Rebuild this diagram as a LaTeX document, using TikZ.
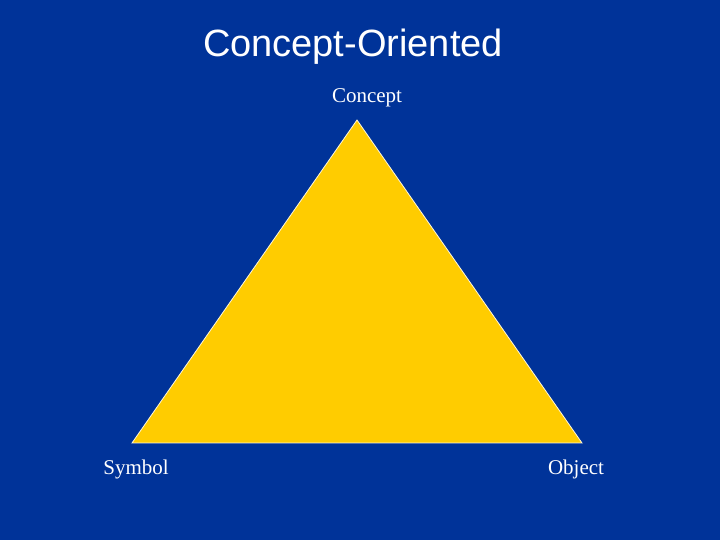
\documentclass[tikz,border=0pt]{standalone}
\usepackage{fontspec}
\setmainfont{Liberation Serif}
\newfontfamily\titlefont{Liberation Sans}
\definecolor{bg}{HTML}{003399}
\definecolor{tri}{HTML}{FFCC00}
\tikzset{lbl/.style={text=white,font=\fontsize{21}{24}\selectfont,inner sep=0pt}}
\begin{document}
\begin{tikzpicture}[x=1pt,y=1pt]
\fill[bg] (0,0) rectangle (720,540);
\useasboundingbox (0,0) rectangle (720,540);
\node[text=white,font=\titlefont\fontsize{38}{44}\selectfont,inner sep=0pt] (title) at (353,493) {Concept-Oriented};
\coordinate (c) at (357,420);
\coordinate (s) at (132,97);
\coordinate (o) at (582,97);
\filldraw[fill=tri,draw=white!85!tri,line width=0.8pt] (c) -- (s) -- (o) -- cycle;
\node[lbl] (lc) at (367,442) {Concept};
\node[lbl] (ls) at (136,71) {Symbol};
\node[lbl] (lo) at (576,71) {Object};
\end{tikzpicture}
\end{document}
